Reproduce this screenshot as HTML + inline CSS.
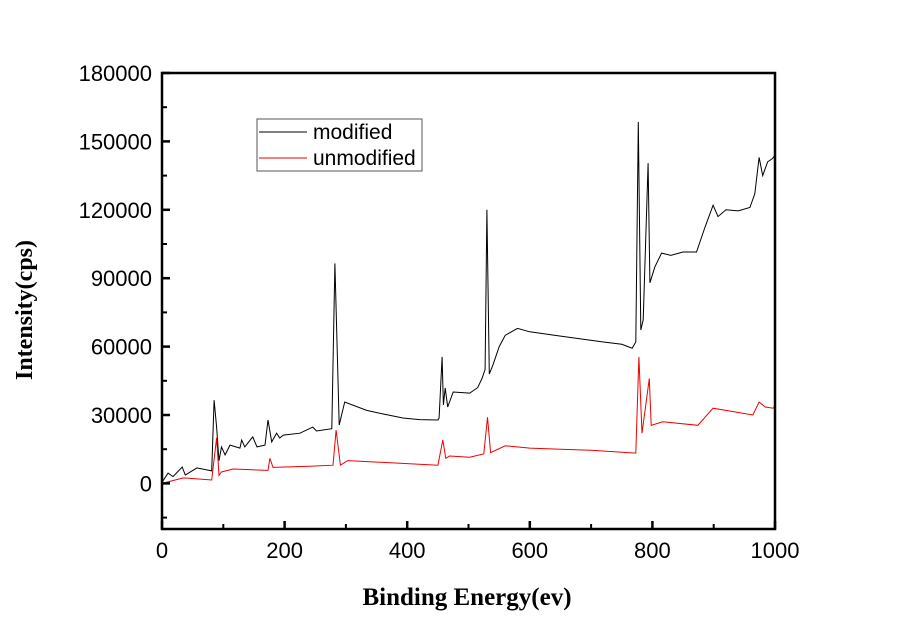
<!DOCTYPE html>
<html><head><meta charset="utf-8"><style>
body{margin:0;background:#fff;}
</style></head><body>
<svg id="chart" width="900" height="635" style="font-family:'Liberation Sans',sans-serif">
<g id="plot"></g>
</svg>
<script>
const xTicks=[0,200,400,600,800,1000];
const yTicks=[0,30000,60000,90000,120000,150000,180000];
const modX=[0,10,18,33,38,57,81,85,89,93,97,103,111,127,130,135,148,155,168,173,179,187,192,198,225,246,252,277,282,289,298,334,360,393,420,450,452,457,459,462,466,475,502,515,522,527,530,534,540,550,560,580,600,640,680,720,750,767,773,777,781,785,793,796,804,815,830,850,872,886,899,907,920,940,959,967,974,980,988,996,1000];
const modY=[500,4500,3000,7200,3700,6800,5500,36500,24700,10000,16000,12500,16800,15500,19000,16000,20400,16000,16800,27800,18200,22000,19900,21200,22000,24700,23000,24000,96500,25600,35700,32000,30500,28700,28000,27800,28700,55500,34400,41900,33500,40100,39600,42000,46000,50000,120000,48000,52000,60000,65000,68000,66500,65000,63500,62000,61000,59300,62000,158500,67300,71700,140500,88000,95000,101000,100000,101500,101500,112500,122000,117000,120000,119500,121000,127000,143000,135000,141000,142500,144000];
const unX=[0,35,81,89,93,97,116,173,176,181,241,279,284,291,303,450,458,463,469,502,525,531,536,560,600,650,700,773,778,783,795,798,817,874,899,964,974,984,997,1000];
const unY=[0,2400,1500,20000,3500,5000,6300,5700,11000,7000,7500,8000,23400,8000,10000,8000,19000,11000,12000,11500,13000,29000,13500,16500,15500,15000,14500,13300,55500,22000,46000,25500,27000,25500,33000,30000,35700,33500,33000,34000];
const L=162,R=775,T=73,B=529;
const sx=v=>L+(v/1000)*(R-L);
const sy=v=>B-(v+20000)/200000*(B-T);
const NS="http://www.w3.org/2000/svg";
const g=document.getElementById('plot');
function mk(tag,attrs,parent){const e=document.createElementNS(NS,tag);for(const k in attrs)e.setAttribute(k,attrs[k]);(parent||g).appendChild(e);return e;}
function path(xs,ys){return xs.map((x,i)=>(i?'L':'M')+sx(x).toFixed(1)+','+sy(ys[i]).toFixed(1)).join('');}
const m=mk('path',{d:path(modX,modY),fill:'none',stroke:'#000','stroke-width':1});


const u=mk('path',{d:path(unX,unY),fill:'none',stroke:'#e00','stroke-width':1});


const fr=mk('rect',{x:L,y:T,width:R-L,height:B-T,fill:'none',stroke:'#000','stroke-width':2.5});


for(const v of xTicks){
 const t=mk('line',{x1:sx(v),x2:sx(v),y1:B,y2:B-8,stroke:'#000','stroke-width':2.5});
 
 
 const lb=mk('text',{x:sx(v),y:558,'text-anchor':'middle','font-size':22});
 lb.textContent=v;
 
 
 if(v<1000){const mt=mk('line',{x1:sx(v+100),x2:sx(v+100),y1:B,y2:B-5,stroke:'#000','stroke-width':2});
 
 }
}
for(const v of yTicks){
 const t=mk('line',{x1:L,x2:L+8,y1:sy(v),y2:sy(v),stroke:'#000','stroke-width':2.5});
 
 
 const lb=mk('text',{x:152,y:sy(v)+8,'text-anchor':'end','font-size':22});
 lb.textContent=v;
 
 
}
for(let v=-15000;v<180000;v+=30000){
 const mt=mk('line',{x1:L,x2:L+5,y1:sy(v),y2:sy(v),stroke:'#000','stroke-width':2});
 
 
}
</script>
<svg style="position:absolute;left:0;top:0" width="900" height="635">
<g>
<rect x="257" y="119" width="165" height="52" fill="none" stroke="#555" stroke-width="1"/>
<line x1="259" y1="132" x2="307" y2="132" stroke="#000"/>
<text x="313" y="139" style="font-size:21px;font-family:'Liberation Sans',sans-serif">modified</text>
<line x1="259" y1="158" x2="307" y2="158" stroke="#e00"/>
<text x="313" y="165" style="font-size:21px;font-family:'Liberation Sans',sans-serif">unmodified</text>
</g>
<text x="467" y="605" text-anchor="middle" style="font-size:25px;font-weight:bold;font-family:'Liberation Serif',serif">Binding Energy(ev)</text>
<text transform="translate(32,310) rotate(-90)" text-anchor="middle" style="font-size:24px;font-weight:bold;font-family:'Liberation Serif',serif">Intensity(cps)</text>
</svg>
</body></html>
